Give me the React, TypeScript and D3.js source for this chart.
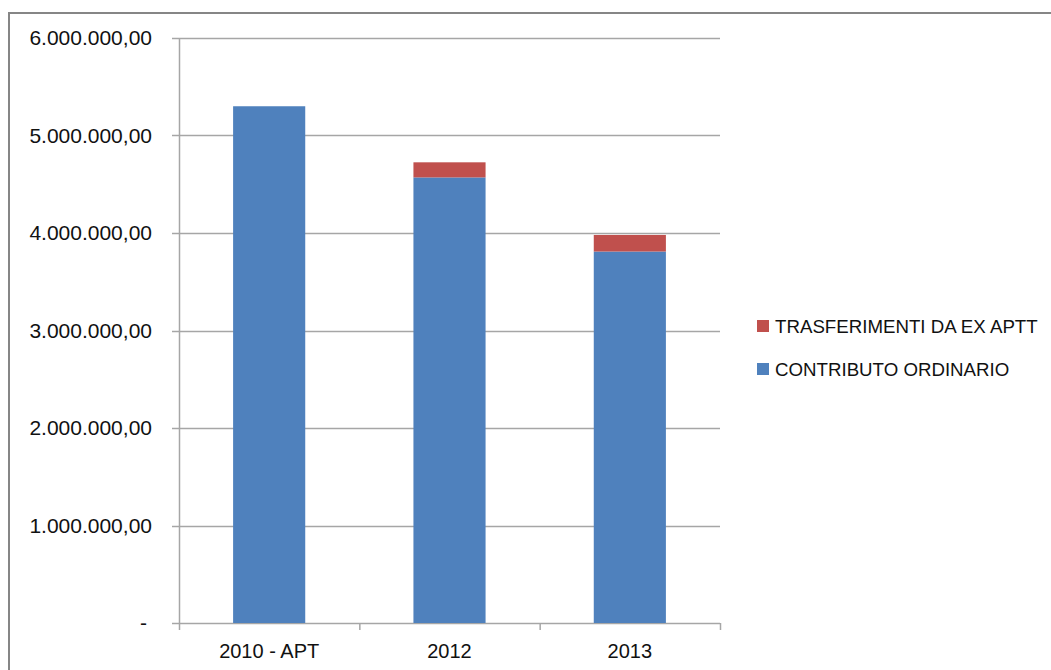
import React from "react";
import * as d3 from "d3";

const categories = ["2010 - APT", "2012", "2013"];
const contributoOrdinario = [5300000, 4570000, 3810000];
const trasferimenti = [0, 155000, 170000];
const seriesNames = ["CONTRIBUTO ORDINARIO", "TRASFERIMENTI DA EX APTT"];
const seriesColors = ["#4F81BD", "#C0504D"];
const yTicks = [0, 1000000, 2000000, 3000000, 4000000, 5000000, 6000000];
const yTickLabels = ["-", "1.000.000,00", "2.000.000,00", "3.000.000,00", "4.000.000,00", "5.000.000,00", "6.000.000,00"];

export default function App() {
  const W = 1051, H = 670;
  const left = 179, right = 720, top = 38, bottom = 623;
  const font = "'Liberation Sans', Arial, sans-serif";

  const x = d3.scaleBand<string>().domain(categories).range([left, right]).paddingInner(0.6).paddingOuter(0.3);
  const xOuter = d3.scaleBand<string>().domain(categories).range([left, right]).padding(0);
  const y = d3.scaleLinear().domain([0, 6000000]).range([bottom, top]);

  const rows = categories.map((c, i) => ({ cat: c, a: contributoOrdinario[i], b: trasferimenti[i] }));
  const stack = d3.stack<any>().keys(["a", "b"])(rows);

  const boundaries = [...categories.map((c) => xOuter(c)!), right];

  return (
    <svg width={W} height={H} style={{ position: "absolute", left: 0, top: 0 }}>
      <rect x={0} y={0} width={W} height={H} fill="#fff" />
      <rect x={9} y={13} width={1100} height={700} fill="#fff" stroke="#868686" strokeWidth={2} />
      {yTicks.map((t, i) => (
        <g key={t}>
          <line x1={172} x2={right} y1={Math.round(y(t)) + 0.5} y2={Math.round(y(t)) + 0.5} stroke="#a6a6a6" strokeWidth={1.5} />
          <text
            x={t === 0 ? 147 : 152}
            y={y(t)}
            dy="0.35em"
            textAnchor="end"
            fontFamily={font}
            fontSize={21}
            fill="#111"
          >
            {yTickLabels[i]}
          </text>
        </g>
      ))}
      <line x1={left + 0.5} x2={left + 0.5} y1={top} y2={bottom} stroke="#a6a6a6" strokeWidth={1.5} />
      {boundaries.map((bx, i) => (
        <line key={i} x1={bx + 0.5} x2={bx + 0.5} y1={bottom} y2={bottom + 7} stroke="#a6a6a6" strokeWidth={1.5} />
      ))}
      {stack.map((s, si) => (
        <g key={si} fill={seriesColors[si]}>
          {s.map((d, i) => (
            <rect
              key={i}
              x={x(categories[i])!}
              y={y(d[1])}
              width={x.bandwidth()}
              height={Math.max(0, y(d[0]) - y(d[1]))}
            />
          ))}
        </g>
      ))}
      {categories.map((c) => (
        <text key={c} x={x(c)! + x.bandwidth() / 2} y={651} dy="0.35em" textAnchor="middle" fontFamily={font} fontSize={20} fill="#111">
          {c}
        </text>
      ))}
      {[1, 0].map((si, j) => (
        <g key={si} transform={`translate(757, ${320 + j * 43})`}>
          <rect width={12} height={12} fill={seriesColors[si]} />
          <text x={18} y={6} dy="0.35em" fontFamily={font} fontSize={18.7} fill="#111">
            {seriesNames[si]}
          </text>
        </g>
      ))}
    </svg>
  );
}
